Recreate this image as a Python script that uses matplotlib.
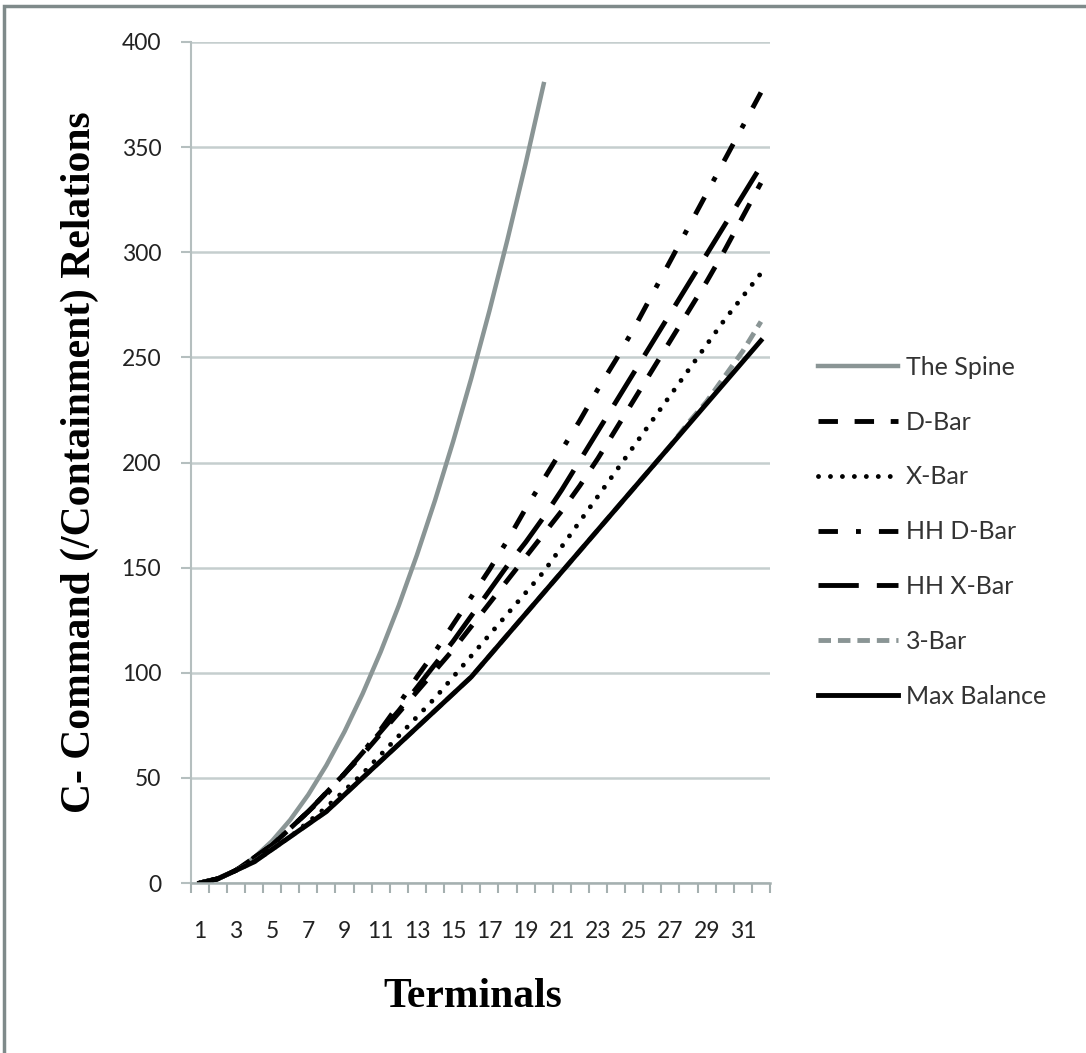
import matplotlib
matplotlib.use("Agg")
import matplotlib.pyplot as plt
from matplotlib.patches import Rectangle

# valores
terminales = list(range(1, 33))
the_spine = [0, 2, 6, 12, 20, 30, 42, 56, 72, 90, 110, 132, 156, 182, 210,
             240, 272, 306, 342, 380]
d_bar = [0, 2, 6, 12, 18, 26, 34, 43, 52, 61, 71, 81, 91, 101, 111, 122,
         133, 144, 155, 166, 177, 189, 202, 216, 230, 244, 258, 272, 286,
         301, 317, 333]
x_bar = [0, 2, 6, 10, 16, 22, 29, 36, 44, 52, 61, 70, 79, 88, 98, 108, 118,
         128, 138, 148, 160, 172, 184, 196, 208, 220, 232, 244, 256, 268,
         279, 290]
hh_d_bar = [0, 2, 6, 12, 18, 26, 34, 42, 52, 62, 73, 85, 98, 110, 123, 136,
            149, 163, 178, 192, 206, 220, 235, 249, 264, 280, 296, 312, 328,
            344, 360, 376]
hh_x_bar = [0, 2, 6, 12, 18, 26, 34, 43, 52, 62, 72, 82, 93, 104, 115, 127,
            139, 151, 162, 174, 187, 201, 215, 229, 243, 257, 271, 285, 299,
            313, 327, 341]
three_bar = [0, 2, 6, 10, 16, 22, 28, 34, 42, 50, 58, 66, 74, 82, 90, 98,
             108, 118, 128, 138, 148, 158, 168, 178, 188, 198, 208, 219, 229,
             241, 253, 267]
max_balance = [0, 2, 6, 10, 16, 22, 28, 34, 42, 50, 58, 66, 74, 82, 90, 98,
               108, 118, 128, 138, 148, 158, 168, 178, 188, 198, 208, 218,
               228, 238, 248, 258]

plt.rcParams["lines.scale_dashes"] = False
plt.rcParams["font.family"] = ["Lato", "DejaVu Sans"]

fig = plt.figure(figsize=(10.86, 10.53), dpi=100)
ax = fig.add_axes([190.6 / 1086, 1 - 883 / 1053, (770 - 190.6) / 1086, (883 - 42) / 1053])

gris = "#8a9595"
lw = 3.5

ax.plot(terminales[:len(the_spine)], the_spine, color=gris, lw=3.2, label="The Spine")
ax.plot(terminales, d_bar, color="black", lw=lw, dashes=(14, 12), label="D-Bar")
ax.plot(terminales, x_bar, color="black", lw=lw, dashes=(0.01, 8.6),
        dash_capstyle="round", label="X-Bar")
ax.plot(terminales, hh_d_bar, color="black", lw=lw, dashes=(14, 13, 3.5, 13),
        label="HH D-Bar")
ax.plot(terminales, hh_x_bar, color="black", lw=lw, dashes=(29, 13), label="HH X-Bar")
ax.plot(terminales, three_bar, color=gris, lw=lw, dashes=(9, 5), label="3-Bar")
ax.plot(terminales, max_balance, color="black", lw=lw, label="Max Balance")

ax.set_xlim(0.5, 32.5)
ax.set_ylim(0, 400)
ax.set_yticks(range(0, 401, 50))
ax.set_xticks(range(1, 33, 2))
ax.set_xticks([i + 0.5 for i in range(0, 33)], minor=True)

ax.grid(axis="y", color="#c5cece", lw=1.8)
ax.set_axisbelow(True)
for s in ["top", "right"]:
    ax.spines[s].set_visible(False)
ax.spines["left"].set_color("#b5bfbf")
ax.spines["bottom"].set_color("#a5b0b0")
ax.spines["left"].set_linewidth(1.5)
ax.spines["bottom"].set_linewidth(1.8)

ax.tick_params(axis="y", length=7.2, width=1.5, color="#b5bfbf", pad=14,
               labelsize=16.5, labelcolor="#222222")
ax.tick_params(axis="x", which="major", length=0, pad=27, labelsize=16.5,
               labelcolor="#222222")
ax.tick_params(axis="x", which="minor", length=7.2, width=1.5, color="#a5b0b0")

fig.text(80 / 1086, 1 - 462 / 1053, "C- Command (/Containment) Relations",
         rotation=90, ha="center", va="center", fontsize=30,
         fontweight="bold", family="Liberation Serif")
fig.text(473 / 1086, 1 - 997 / 1053, "Terminals", ha="center", va="center",
         fontsize=30, fontweight="bold", family="Liberation Serif")

fig.legend(loc="upper left", bbox_to_anchor=(818 / 1086, 1 - 356 / 1053),
           frameon=False, fontsize=18, handlelength=3.2, handletextpad=0.3,
           labelspacing=1.27, borderpad=0, borderaxespad=0, labelcolor="#333333")

# marco gris del grafico original
fig.patches.append(Rectangle((4 / 1086, -0.05), 1.2, 1 - 6 / 1053 + 0.05,
                             transform=fig.transFigure, fill=False,
                             edgecolor="#7f8a8a", lw=2.5))

fig.savefig("out.png", dpi=100)
